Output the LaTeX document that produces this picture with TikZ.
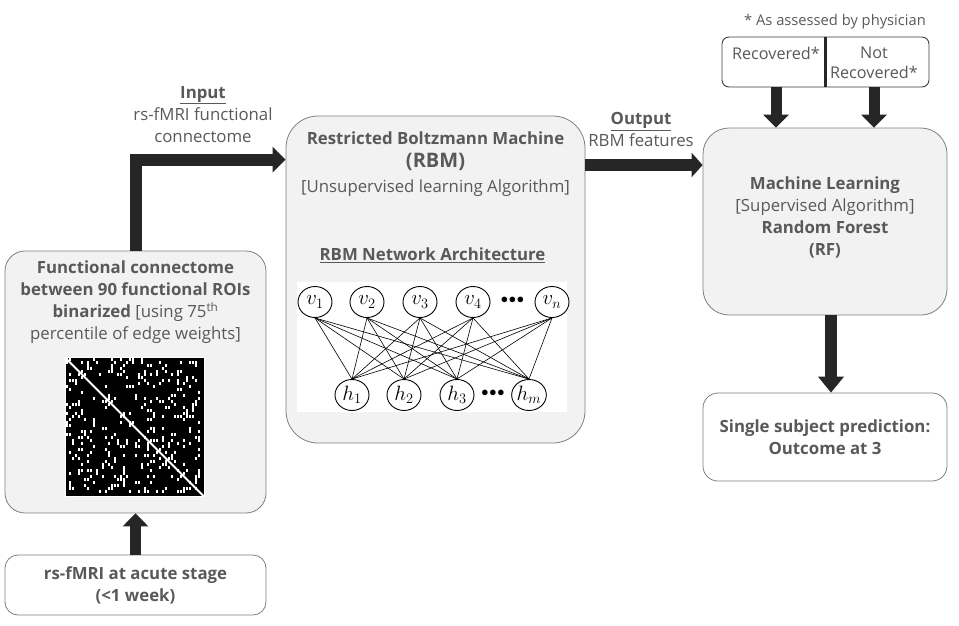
\documentclass[tikz,border=0pt]{standalone}
\usepackage{fontspec}
\setmainfont{Open Sans}
\usetikzlibrary{arrows.meta,calc,shapes.geometric}
\definecolor{boxfill}{HTML}{F2F2F2}
\definecolor{boxline}{HTML}{7F7F7F}
\definecolor{txt}{HTML}{595959}
\definecolor{arr}{HTML}{262626}
\tikzset{
  box/.style={draw=boxline, line width=0.8pt, fill=boxfill, inner sep=0pt},
  wbox/.style={box, fill=white},
  lbl/.style={text=txt, inner sep=0pt, align=center, font=\fontsize{16.8}{22}\selectfont},
  blbl/.style={lbl, font=\fontsize{16.8}{22}\selectfont\bfseries},
  slbl/.style={lbl, font=\fontsize{16.2}{20}\selectfont},
  bigarrow/.style={draw=arr, line width=11pt, -{Triangle[width=25pt,length=13pt]}},
  neuron/.style={ellipse, draw=black, line width=0.9pt, fill=white, minimum width=34pt, minimum height=31pt, inner sep=0pt, font=\fontsize{20}{20}\selectfont},
  wire/.style={draw=black, line width=0.6pt}
}
\begin{document}
\begin{tikzpicture}[x=1pt,y=-1pt]
\useasboundingbox (0,0) rectangle (959,625);

% ---------- boxes ----------
\node[wbox, rounded corners=13pt, minimum width=261pt, minimum height=60pt] (acute) at (135.5,585) {};
\node[box, rounded corners=20pt, minimum width=261pt, minimum height=262pt] (fc) at (135.5,382) {};
\node[box, rounded corners=32pt, minimum width=299pt, minimum height=327pt] (rbm) at (435.5,279.5) {};
\node[box, rounded corners=26pt, minimum width=244pt, minimum height=187pt] (ml) at (825,221.5) {};
\node[wbox, rounded corners=15pt, minimum width=244pt, minimum height=88pt] (single) at (825,437) {};
\node[draw=arr!90, line width=0.9pt, fill=white, rounded corners=7pt, minimum width=207pt, minimum height=50pt, inner sep=0pt] (recbox) at (825.5,62) {};
\draw[draw=arr, line width=2.5pt] (recbox.north) -- (recbox.south);

% ---------- texts ----------
\node[blbl] (acuteT) at (acute) {rs-fMRI at acute stage\\(<1 week)};
\node[lbl, anchor=north] (fcT) at (135.5,261) {\textbf{Functional connectome}\\\textbf{between 90 functional ROIs}\\\textbf{binarized} [using 75\textsuperscript{th}\\percentile of edge weights]};

\node[blbl] (rbmT1) at (435.5,138) {Restricted Boltzmann Machine};
\node[lbl, font=\fontsize{20}{22}\selectfont\bfseries] (rbmT2) at (435.5,162) {(RBM)};
\node[lbl] (rbmT3) at (435.5,188) {[Unsupervised learning Algorithm]};
\node[blbl] (rbmT4) at (432.5,255) {\underline{RBM Network Architecture}};

\node[lbl, anchor=north] (mlT) at (825,177) {\textbf{Machine Learning}\\{[Supervised Algorithm]}\\\textbf{Random Forest}\\\textbf{(RF)}};
\node[blbl] (singleT) at (single) {Single subject prediction:\\Outcome at 3};

\node[lbl, anchor=north] (inT) at (203,86) {\textbf{\underline{Input}}\\rs-fMRI functional\\connectome};
\node[lbl, anchor=north] (outT) at (641,112) {\textbf{\underline{Output}}\\RBM features};

\node[slbl] (recT) at (776,53) {Recovered*};
\node[slbl] (notT) at (874,63) {Not\\Recovered*};
\node[lbl, font=\fontsize{14.7}{16}\selectfont] (noteT) at (835,22) {* As assessed by physician};

% ---------- connectome matrix ----------
\node[draw=white, line width=0.8pt, fill=black, minimum width=139pt, minimum height=139pt, inner sep=0pt] (mat) at (134.5,427) {};
\pgfmathsetseed{5}
\foreach \i in {0,...,44} {
  \foreach \j in {\i,...,44} {
    \pgfmathrandominteger{\r}{1}{1000}
    \ifnum\r<175
      \fill[white] ($(mat.north west)+(1.3+\j*3,1.3+\i*3)$) rectangle ++(2.2,2.2);
      \fill[white] ($(mat.north west)+(1.3+\i*3,1.3+\j*3)$) rectangle ++(2.2,2.2);
    \fi
  }
}
\draw[white, line width=1.8pt] ($(mat.north west)+(1,1)$) -- ($(mat.south east)+(-1,-1)$);

% ---------- RBM network ----------
\node[fill=white, minimum width=270pt, minimum height=130pt, inner sep=0pt] (netbg) at (432,347) {};
\node[neuron] (v1) at (315,302) {$v_1$};
\node[neuron] (v2) at (367,302) {$v_2$};
\node[neuron] (v3) at (420,302) {$v_3$};
\node[neuron] (v4) at (473,302) {$v_4$};
\node[neuron] (vn) at (552,302) {$v_n$};
\node[neuron] (h1) at (352,395) {$h_1$};
\node[neuron] (h2) at (404,395) {$h_2$};
\node[neuron] (h3) at (457,395) {$h_3$};
\node[neuron] (hm) at (529,395) {$h_m$};
\foreach \v in {v1,v2,v3,v4,vn}
  \foreach \h in {h1,h2,h3,hm}
    \draw[wire] (\v.south) -- (\h.north);
\node[font=\fontsize{15}{15}\selectfont] (vdots) at (512.5,300) {$\bullet\!\bullet\!\bullet$};
\node[font=\fontsize{15}{15}\selectfont] (hdots) at (493,393) {$\bullet\!\bullet\!\bullet$};

% ---------- connectors ----------
\draw[bigarrow] (acute.north) -- (fc.south);
\coordinate (inY) at ($(rbm.north west)+(0,44)$);
\draw[bigarrow, line width=12pt] (fc.north) |- (inY);
\coordinate (outY) at (0,165);
\draw[bigarrow, line width=12pt, -{Triangle[width=24pt,length=11pt]}] (rbm.east |- outY) -- (ml.west |- outY);
\draw[bigarrow, line width=11pt] (recbox.south -| recT) -- (ml.north -| recT);
\draw[bigarrow, line width=11pt] (recbox.south -| notT) -- (ml.north -| notT);
\draw[bigarrow, line width=12pt, -{Triangle[width=25pt,length=16pt]}] (ml.south -| 831,0) -- (single.north -| 831,0);
\end{tikzpicture}
\end{document}
